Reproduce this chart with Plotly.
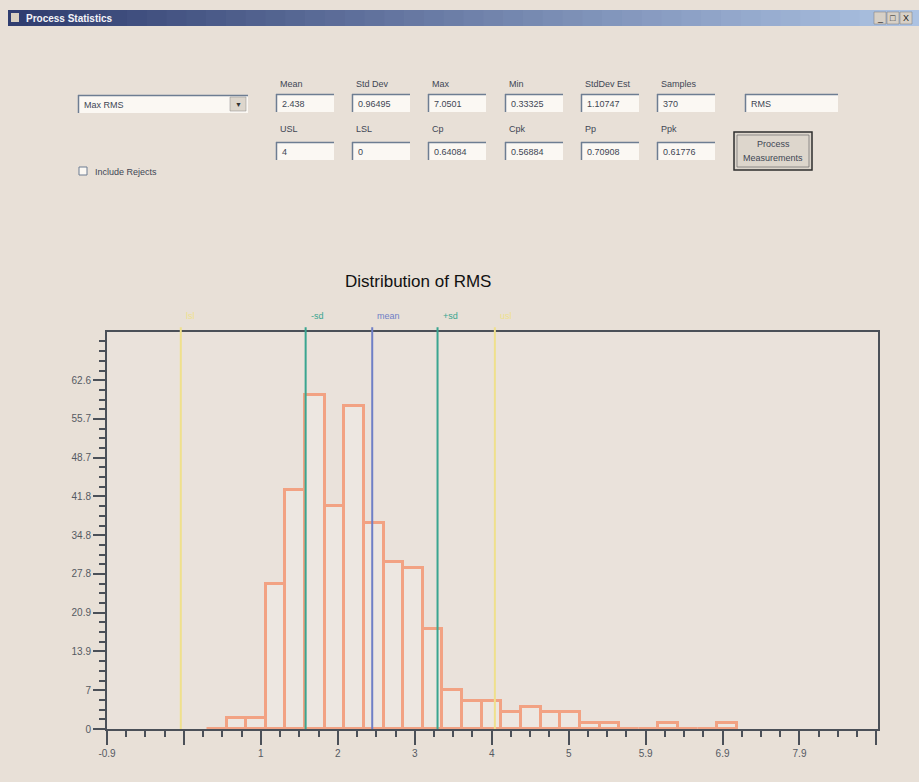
import plotly.graph_objects as go

# ---------------- data ----------------
bin_start = 0.333
bin_width = 0.25
counts = [0, 2, 2, 26, 43, 60, 40, 58, 37, 30, 29, 18, 7, 5, 5, 3, 4, 3, 3, 1, 1, 0, 0, 1, 0, 0, 1]

lsl = 0.0
usl = 4.0
mean_val = 2.438
minus_sd = 1.59
plus_sd = 3.27

x_tick0 = -0.94
x_step = 0.98
x_ticktext = ["-0.9", "", "1", "2", "3", "4", "5", "5.9", "6.9", "7.9", ""]
y_step = 6.96
y_ticktext = ["0", "7", "13.9", "20.9", "27.8", "34.8", "41.8", "48.7", "55.7", "62.6"]

stat_labels_row1 = ["Mean", "Std Dev", "Max", "Min", "StdDev Est", "Samples"]
stat_values_row1 = ["2.438", "0.96495", "7.0501", "0.33325", "1.10747", "370"]
stat_labels_row2 = ["USL", "LSL", "Cp", "Cpk", "Pp", "Ppk"]
stat_values_row2 = ["4", "0", "0.64084", "0.56884", "0.70908", "0.61776"]

# ---------------- geometry helpers ----------------
W, H = 919, 782
L, R, T, B = 107, 878, 332, 729


def px(x):
    return (x - L) / (R - L)


def py(y):
    return (B - y) / (B - T)


FONT = "Liberation Sans, Arial, sans-serif"
BG = "#e8e0d7"

shapes = []
annotations = []


def rect(x0, y0, x1, y1, fill, line_color=None, line_width=0, layer="below"):
    shapes.append(dict(type="rect", xref="paper", yref="paper",
                       x0=px(x0), x1=px(x1), y0=py(y1), y1=py(y0),
                       fillcolor=fill,
                       line=dict(color=line_color or fill, width=line_width),
                       layer=layer))


def hline(x0, x1, y, color, width=1, layer="above"):
    shapes.append(dict(type="line", xref="paper", yref="paper",
                       x0=px(x0), x1=px(x1), y0=py(y), y1=py(y),
                       line=dict(color=color, width=width), layer=layer))


def vline(x, y0, y1, color, width=1, layer="above"):
    shapes.append(dict(type="line", xref="paper", yref="paper",
                       x0=px(x), x1=px(x), y0=py(y0), y1=py(y1),
                       line=dict(color=color, width=width), layer=layer))


def text(x, y, s, size=10, color="#3a3f4a", anchor="left", bold=False):
    annotations.append(dict(xref="paper", yref="paper", x=px(x), y=py(y),
                            text=("<b>%s</b>" % s) if bold else s,
                            showarrow=False, xanchor=anchor, yanchor="middle",
                            font=dict(family=FONT, size=size, color=color)))


# ---------------- window frame ----------------
rect(0, 0, W, 9, "#f2e5cc")
rect(0, 0, 6, H, "#f2e5cc")
vline(6.5, 8, H, "#3e3a36", 1.5)
hline(6, W, 8.5, "#3e3a36", 1.5)
rect(0, 385, 5, 410, "#d8151c")

# title bar gradient
n_seg = 46
c0 = (48, 62, 112)
c1 = (172, 194, 226)
x_start, x_end = 8, W
for i in range(n_seg):
    t = i / (n_seg - 1)
    c = tuple(int(c0[k] + (c1[k] - c0[k]) * t) for k in range(3))
    xa = x_start + (x_end - x_start) * i / n_seg
    xb = x_start + (x_end - x_start) * (i + 1) / n_seg + 0.8
    rect(xa, 10, xb, 26, "rgb(%d,%d,%d)" % c)
rect(11, 13, 19, 22, "#d8d0c0")
text(24, 18, "Process Statistics", size=10, color="#f4f4f8", bold=True)
for bx, s in [(874, "_"), (887, "□"), (900, "X")]:
    rect(bx, 12, bx + 12, 24, "#d7d0c6", "#7a7a7a", 0.5)
    annotations.append(dict(xref="paper", yref="paper", x=px(bx + 6), y=py(18), text=s,
                            showarrow=False, xanchor="center", yanchor="middle",
                            font=dict(family=FONT, size=9, color="#222")))


# ---------------- dialog controls ----------------
def textbox(x0, y0, x1, y1, value):
    rect(x0, y0, x1, y1, "#fbf8f3")
    hline(x0, x1, y0 + 0.5, "#6d7d92", 1.5)
    vline(x0 + 0.5, y0, y1, "#6d7d92", 1.5)
    text(x0 + 4, (y0 + y1) / 2 + 1, value, size=9, color="#404654")


# combo box
textbox(78, 95, 248, 113, "Max RMS")
rect(230, 97, 246, 111, "#ddd6cc", "#8a8a8a", 0.5)
text(238, 104, "▼", size=7, color="#333", anchor="center")

# checkbox
rect(79, 167, 87, 175, "#fbf8f3", "#6d7d92", 1)
text(93, 172, "Include Rejects", size=9, color="#404654")

col_x = [276, 352, 428, 505, 581, 657]
for i in range(6):
    x0 = col_x[i]
    text(x0 + 2, 84, stat_labels_row1[i], size=9, color="#404654")
    textbox(x0, 94, x0 + 58, 112, stat_values_row1[i])
    text(x0 + 2, 129, stat_labels_row2[i], size=9, color="#404654")
    textbox(x0, 142, x0 + 58, 160, stat_values_row2[i])
textbox(745, 94, 838, 112, "RMS")

# button
rect(734, 132, 812, 170, "#ddd6cc", "#2e2e2e", 1.5)
rect(737, 135, 809, 167, "#ddd6cc", "#6a6a6a", 0.7)
text(773, 144, "Process", size=9, color="#404654", anchor="center")
text(773, 158, "Measurements", size=9, color="#404654", anchor="center")

# ---------------- chart title ----------------
text(418, 281, "Distribution of RMS", size=17, color="#111111", anchor="center")

# ---------------- histogram ----------------
centers = [bin_start + bin_width * (i + 0.5) for i in range(len(counts))]

fig = go.Figure()
fig.add_trace(go.Bar(
    x=centers, y=counts, width=bin_width,
    marker=dict(color="rgba(255,255,255,0.18)",
                line=dict(color="#f2a283", width=3)),
    hoverinfo="x+y", showlegend=False,
))

ref_lines = [
    (lsl, "#efe08c", "lsl"),
    (minus_sd, "#3aa590", "-sd"),
    (mean_val, "#6f7fc6", "mean"),
    (plus_sd, "#3aa590", "+sd"),
    (usl, "#efe08c", "usl"),
]
for xv, col, lab in ref_lines:
    fig.add_shape(type="line", xref="x", yref="paper", x0=xv, x1=xv, y0=0, y1=1.012,
                  line=dict(color=col, width=2), layer="above")
    fig.add_annotation(xref="x", yref="paper", x=xv, y=1.04, text=lab, showarrow=False,
                       xanchor="left", xshift=3, yanchor="middle",
                       font=dict(family=FONT, size=9, color=col))

x_tickvals = [x_tick0 + k * x_step for k in range(len(x_ticktext))]
y_tickvals = [k * y_step for k in range(len(y_ticktext))]

axis_col = "#4b5058"
fig.update_xaxes(
    range=[x_tick0, x_tick0 + 10 * x_step + 0.02],
    tickmode="array", tickvals=x_tickvals, ticktext=x_ticktext,
    ticks="outside", ticklen=14, tickwidth=1.5, tickcolor=axis_col,
    minor=dict(tick0=x_tick0, dtick=x_step / 4, ticks="outside", ticklen=6,
               tickwidth=1.5, tickcolor=axis_col, showgrid=False),
    showline=True, linecolor=axis_col, linewidth=2, mirror=True,
    showgrid=False, zeroline=False,
    tickfont=dict(family=FONT, size=10, color="#555a62"),
)
fig.update_yaxes(
    range=[0, 71.3],
    tickmode="array", tickvals=y_tickvals, ticktext=y_ticktext,
    ticks="outside", ticklen=12, tickwidth=1.5, tickcolor=axis_col,
    minor=dict(tick0=0, dtick=y_step / 4, ticks="outside", ticklen=6,
               tickwidth=1.5, tickcolor=axis_col, showgrid=False),
    showline=True, linecolor=axis_col, linewidth=2, mirror=True,
    showgrid=False, zeroline=False,
    tickfont=dict(family=FONT, size=10, color="#555a62"),
)

fig.update_layout(
    width=W, height=H,
    margin=dict(l=L, r=W - R, t=T, b=H - B, pad=0),
    paper_bgcolor=BG, plot_bgcolor="#eae2db",
    shapes=shapes, annotations=list(fig.layout.annotations) + annotations,
    bargap=0, showlegend=False,
)

fig.write_html(
    "out.html",
    config={"displayModeBar": False},
    post_script="document.body.style.margin='0px';document.body.style.overflow='hidden';",
)
